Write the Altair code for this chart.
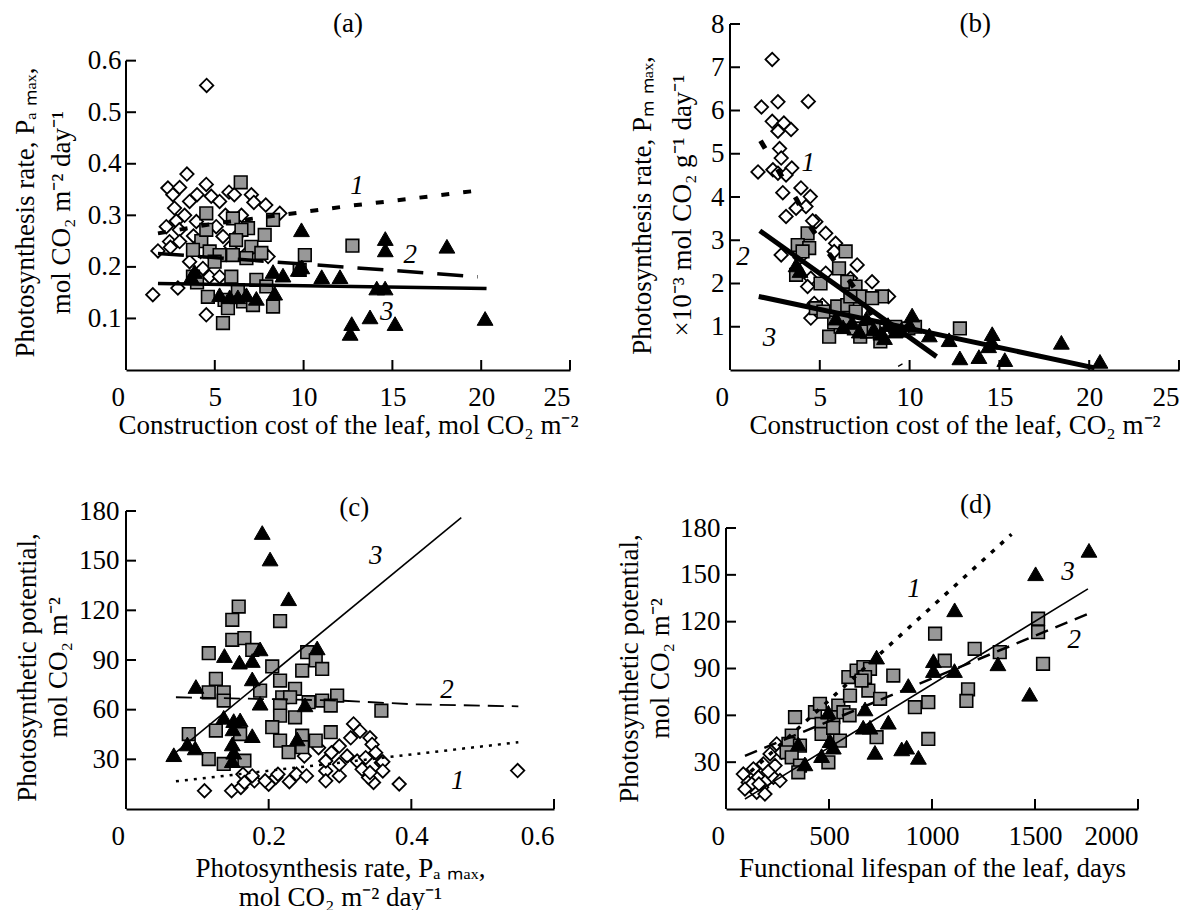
import altair as alt
import pandas as pd

FONT = "Liberation Serif"
FS = 27

# ---------------- panel (a) ----------------
A_DIA_X = [4.54, 3.43, 2.36, 3.02, 4.52, 4.0, 2.64, 4.8, 5.27, 5.8, 6.1, 7.06, 7.87, 8.66, 3.58, 2.73, 3.3,
           2.27, 2.83, 3.0, 3.96, 5.08, 5.46, 2.45, 3.02, 1.8, 3.58, 4.33, 4.7, 5.27, 1.51, 2.92, 4.52, 8.0,
           6.5, 7.2, 4.2, 5.9, 6.9, 2.5, 3.8, 4.9, 6.3, 5.6]
A_DIA_Y = [0.552, 0.380, 0.353, 0.354, 0.360, 0.340, 0.340, 0.337, 0.327, 0.345, 0.340, 0.340, 0.320, 0.304,
           0.327, 0.314, 0.300, 0.278, 0.289, 0.272, 0.288, 0.278, 0.259, 0.249, 0.249, 0.231, 0.210, 0.197,
           0.181, 0.181, 0.146, 0.159, 0.107, 0.220, 0.300, 0.325, 0.230, 0.240, 0.230, 0.238, 0.260, 0.220,
           0.262, 0.300]
A_SQ_X = [6.46, 4.52, 6.02, 6.87, 6.5, 8.28, 7.81, 4.24, 6.2, 7.06, 4.52, 3.77, 4.71, 5.27, 6.02, 6.78, 7.62,
          4.99, 10.07, 12.75, 9.78, 3.77, 5.93, 7.34, 7.9, 4.61, 5.55, 6.59, 7.15, 8.28, 5.74, 5.46, 6.3, 4.0]
A_SQ_Y = [0.364, 0.304, 0.294, 0.275, 0.272, 0.291, 0.262, 0.250, 0.252, 0.239, 0.272, 0.233, 0.230, 0.223,
          0.223, 0.217, 0.227, 0.210, 0.223, 0.241, 0.194, 0.181, 0.181, 0.175, 0.162, 0.142, 0.136, 0.133,
          0.126, 0.123, 0.120, 0.091, 0.155, 0.170]
A_TRI_X = [9.88, 14.6, 14.6, 18.07, 9.9, 9.7, 11.02, 12.05, 14.12, 14.59, 12.71, 12.62, 13.74, 15.15, 20.22,
           8.28, 8.84, 3.86, 5.27, 5.84, 6.3, 6.78, 7.34, 8.37, 3.68]
A_TRI_Y = [0.272, 0.255, 0.233, 0.240, 0.200, 0.195, 0.181, 0.181, 0.159, 0.159, 0.090, 0.071, 0.103, 0.090,
           0.100, 0.191, 0.184, 0.191, 0.146, 0.142, 0.142, 0.146, 0.139, 0.149, 0.181]
A_L1_X = [1.8, 5.0, 8.8, 12.5, 15.0, 19.8]
A_L1_Y = [0.265, 0.284, 0.301, 0.318, 0.328, 0.348]
A_L2_X = [1.8, 19.8]
A_L2_Y = [0.226, 0.181]
A_L3_X = [1.8, 20.3]
A_L3_Y = [0.168, 0.158]
A_LAB_X = [13.0, 16.0, 14.68]
A_LAB_Y = [0.356, 0.223, 0.113]

# ---------------- panel (b) ----------------
B_DIA_X = [2.35, 1.75, 2.67, 4.36, 2.35, 3.0, 3.4, 2.67, 2.76, 2.85, 1.56, 2.39, 2.67, 3.44, 3.12, 3.95, 2.94,
           4.47, 4.23, 3.12, 3.68, 4.78, 5.33, 5.88, 2.85, 7.08, 7.91, 4.5, 8.83, 4.5, 4.69, 5.33, 5.8, 6.71,
           4.32, 5.15, 3.9, 4.6]
B_DIA_Y = [7.18, 6.08, 6.2, 6.21, 5.75, 5.71, 5.56, 5.52, 5.12, 4.9, 4.58, 4.63, 4.55, 4.67, 4.51, 4.21, 4.1,
           4.01, 3.78, 3.55, 3.74, 3.43, 3.16, 2.93, 2.66, 2.43, 2.04, 2.12, 1.70, 1.2, 1.54, 2.24, 2.74, 2.12,
           1.93, 1.5, 2.6, 3.45]
B_SQ_X = [4.32, 3.77, 4.41, 4.04, 6.44, 3.68, 6.07, 5.04, 6.53, 6.99, 7.27, 8.46, 7.91, 5.97, 6.53, 4.78, 5.52,
          7.25, 8.37, 6.16, 6.9, 7.63, 12.8, 9.93, 5.8, 6.4, 7.0, 8.0, 9.2, 5.2, 6.7, 10.3]
B_SQ_Y = [3.16, 2.89, 2.82, 2.74, 2.74, 2.2, 2.35, 2.0, 2.04, 1.93, 1.70, 1.70, 1.66, 1.47, 1.5, 1.43, 0.77,
          0.77, 0.66, 1.0, 0.96, 0.89, 0.96, 0.96, 1.1, 1.2, 1.35, 1.0, 1.0, 1.35, 1.7, 1.0]
B_TRI_X = [10.14, 11.1, 12.2, 12.8, 13.86, 14.6, 14.6, 15.3, 18.45, 20.6, 14.4, 9.5, 5.9, 6.3, 6.8, 7.2, 7.6,
           8.0, 8.4, 8.8, 9.2, 8.6, 3.68, 3.9, 10.0]
B_TRI_Y = [1.27, 0.81, 0.70, 0.28, 0.31, 0.84, 0.64, 0.24, 0.64, 0.20, 0.56, 0.92, 1.2, 1.0, 1.1, 0.9, 1.2,
           0.95, 0.85, 1.05, 0.9, 0.75, 2.43, 2.3, 1.05]
B_L1_X = [1.7, 2.7, 3.7, 4.5, 5.5, 6.5, 7.5, 8.5, 9.5]
B_L1_Y = [5.3, 4.6, 3.95, 3.3, 2.7, 2.15, 1.55, 0.85, 0.1]
B_L2_X = [1.66, 11.5]
B_L2_Y = [3.22, 0.31]
B_L3_X = [1.6, 20.3]
B_L3_Y = [1.7, 0.05]
B_LAB_X = [4.36, 0.73, 2.2]
B_LAB_Y = [4.78, 2.62, 0.73]

# ---------------- panel (c) ----------------
C_DIA_X = [0.319, 0.342, 0.315, 0.299, 0.549, 0.383, 0.358, 0.347, 0.34, 0.110, 0.148, 0.161, 0.18, 0.2, 0.21,
           0.229, 0.239, 0.253, 0.28, 0.28, 0.299, 0.299, 0.31, 0.324, 0.336, 0.331, 0.342, 0.36, 0.28, 0.288,
           0.164, 0.177, 0.166, 0.195, 0.213, 0.328, 0.345, 0.35, 0.27, 0.25, 0.36]
C_DIA_Y = [51.4, 43, 43, 38, 23.2, 15.1, 28, 16, 19, 11, 11, 13, 17, 15, 19, 16.5, 21, 20, 23, 17, 20, 27, 32,
           29, 31, 24, 22, 28.5, 29, 34, 21, 20, 16, 17, 21, 47, 39, 34, 37, 32, 23]
C_SQ_X = [0.158, 0.149, 0.216, 0.149, 0.166, 0.116, 0.177, 0.205, 0.254, 0.266, 0.275, 0.247, 0.126, 0.216,
          0.237, 0.116, 0.137, 0.137, 0.188, 0.219, 0.23, 0.256, 0.275, 0.296, 0.287, 0.216, 0.216, 0.237,
          0.088, 0.126, 0.205, 0.216, 0.247, 0.266, 0.287, 0.228, 0.247, 0.116, 0.137, 0.166, 0.16, 0.358]
C_SQ_Y = [122.3, 114.3, 113.5, 102.2, 103.2, 94.1, 96.1, 86.1, 94.7, 89.7, 84.6, 83.6, 78.6, 77.6, 72.6, 70.5,
          70.5, 65.5, 71.5, 67.5, 67.5, 64.5, 65.5, 68.5, 62.5, 62.5, 56.4, 55.4, 45.3, 47.4, 49.4, 41.3, 44.3,
          41.3, 46.4, 34.3, 37.3, 30.2, 27.2, 29.2, 45.3, 59.4]
C_TRI_X = [0.191, 0.202, 0.228, 0.188, 0.138, 0.159, 0.177, 0.177, 0.098, 0.188, 0.268, 0.251, 0.137, 0.151,
           0.16, 0.177, 0.149, 0.151, 0.149, 0.24, 0.067, 0.086, 0.097, 0.15]
C_TRI_Y = [167, 151, 127, 96.7, 92.7, 88.7, 89.7, 78.6, 74, 63.9, 97.3, 62.9, 55.4, 53.4, 53.8, 44.3, 39.3,
           34.3, 29.2, 42.3, 32.8, 39.3, 36.9, 48.4]
C_L1_X = [0.07, 0.55]
C_L1_Y = [16.7, 40.3]
C_L2_X = [0.07, 0.3, 0.4, 0.55]
C_L2_Y = [67.5, 65.5, 63.3, 62.0]
C_L3_X = [0.07, 0.47]
C_L3_Y = [34.2, 176]
C_LAB_X = [0.465, 0.45, 0.35]
C_LAB_Y = [17, 72, 153]

# ---------------- panel (d) ----------------
D_DIA_X = [84, 108, 133, 181, 214, 246, 270, 157, 197, 173, 149, 230, 262, 125, 92, 189, 238, 205, 160]
D_DIA_Y = [22.4, 17, 25.7, 28.9, 35.3, 41.7, 36.3, 20.3, 18.2, 13.9, 10.7, 20.3, 18.2, 16, 12.8, 9.6, 27.8,
           24, 16]
D_SQ_X = [335, 319, 303, 294, 359, 319, 359, 351, 432, 456, 545, 602, 691, 748, 521, 570, 464, 464, 497, 553,
          594, 634, 667, 699, 675, 658, 731, 812, 917, 982, 982, 1015, 1515, 1515, 1539, 1062, 1207, 1329,
          1175, 1167, 600, 520]
D_SQ_Y = [58.8, 47, 41.7, 36.3, 40.6, 33.1, 27.8, 23.5, 62, 67.4, 66.3, 72.7, 75.9, 70.6, 58.8, 62, 54.5, 48.1,
          29.9, 43.8, 84.5, 88.7, 90.9, 89.8, 84.5, 82.3, 46, 85.5, 65.2, 68.4, 44.9, 112.3, 121.9, 113.3, 93,
          95, 102.6, 100.5, 76.7, 69.2, 60, 52]
D_TRI_X = [351, 383, 464, 505, 521, 497, 675, 666, 699, 723, 788, 731, 885, 853, 877, 934, 1110, 1503, 1762,
           1007, 1007, 1109, 1320, 1474]
D_TRI_Y = [41.7, 28.9, 34.2, 43.8, 39.6, 62, 64.1, 52.4, 52.4, 36.3, 55.6, 97.3, 79.1, 38.5, 39.6, 33.1,
           127.6, 150.7, 165.7, 95, 88.7, 88.7, 93, 73.5]
D_L1_X = [120, 1386]
D_L1_Y = [24, 176]
D_L2_X = [92, 1757]
D_L2_Y = [34, 125]
D_L3_X = [92, 1757]
D_L3_Y = [6.4, 141]
D_LAB_X = [913, 1690, 1660]
D_LAB_Y = [141, 108, 152]

LINE_NAMES = ["1", "2", "3"]

H1, H2 = 346, 298


def panel(W, H, xdom, ydom, ytop, xvals, yvals, xtitle, ytitle, titleY,
          dia, sq, tri, lines, labs, tag, xtp, ylp, ytp, ylh):
    xs = alt.Scale(domain=xdom, nice=False, zero=False)
    ys = alt.Scale(domain=ydom, nice=False, zero=False)
    xaxis = alt.Axis(values=xvals, format="~r", title=xtitle, ticks=False, grid=False,
                     domainColor="black", domainWidth=2,
                     labelFont=FONT, labelFontSize=FS, labelColor="black", labelPadding=14,
                     labelOffset={"condition": {"test": "datum.value === 0", "value": -15}, "value": 0},
                     titleFont=FONT, titleFontSize=FS, titleFontWeight="normal", titleColor="black",
                     titlePadding=xtp, titleLineHeight=29)
    yaxis = alt.Axis(values=yvals, format="~r", title=ytitle, ticks=False, grid=False, domain=False,
                     labelFont=FONT, labelFontSize=FS, labelColor="black", labelPadding=ylp,
                     titleFont=FONT, titleFontSize=FS, titleFontWeight="normal", titleColor="black",
                     titlePadding=ytp, titleLineHeight=ylh, titleY=titleY)

    X = alt.X("x:Q", scale=xs, axis=xaxis)
    Y = alt.Y("y:Q", scale=ys, axis=yaxis)

    layers = []
    layers.append(alt.Chart(pd.DataFrame({"x": dia[0], "y": dia[1]})).mark_point(
        shape="diamond", filled=True, fill="white", stroke="black", strokeWidth=1.8,
        size=180, opacity=1).encode(x=X, y=Y))
    layers.append(alt.Chart(pd.DataFrame({"x": sq[0], "y": sq[1]})).mark_point(
        shape="square", filled=True, fill="#989898", stroke="black", strokeWidth=1.6,
        size=160, opacity=1).encode(x=X, y=Y))
    layers.append(alt.Chart(pd.DataFrame({"x": tri[0], "y": tri[1]})).mark_point(
        shape="triangle-up", filled=True, fill="black", stroke="black", strokeWidth=1,
        size=250, opacity=1).encode(x=X, y=Y))
    for (lx, ly, dash, w) in lines:
        kw = dict(color="black", strokeWidth=w, strokeCap="butt")
        if dash:
            kw["strokeDash"] = dash
        layers.append(alt.Chart(pd.DataFrame({"x": lx, "y": ly})).mark_line(**kw).encode(x=X, y=Y))
    layers.append(alt.Chart(pd.DataFrame({"x": labs[0], "y": labs[1], "t": LINE_NAMES})).mark_text(
        font=FONT, fontSize=27, fontStyle="italic", color="black", align="center",
        baseline="middle").encode(x=X, y=Y, text="t:N"))
    layers.append(alt.Chart(pd.DataFrame({"x": [tag[0]], "y": [tag[1]], "t": [tag[2]]})).mark_text(
        font=FONT, fontSize=27, color="black", align="center", baseline="middle").encode(
        x=X, y=Y, text="t:N"))
    # y axis line (only up to the last labelled value)
    layers.append(alt.Chart(pd.DataFrame({"y": [0], "y2": [ytop]})).mark_rule(
        color="black", strokeWidth=2).encode(x=alt.value(0), y=Y, y2="y2:Q"))
    # inward ticks
    layers.append(alt.Chart(pd.DataFrame({"y": yvals})).mark_rule(color="black", strokeWidth=2).encode(
        y=Y, x=alt.value(0), x2=alt.value(10)))
    layers.append(alt.Chart(pd.DataFrame({"x": [v for v in xvals if v != 0]})).mark_rule(
        color="black", strokeWidth=2).encode(x=X, y=alt.value(H), y2=alt.value(H - 10)))
    return alt.layer(*layers).properties(width=W, height=H)


pa = panel(444, H1, [0, 25], [0, 0.6711], 0.6, [0, 5, 10, 15, 20, 25],
           [0.1, 0.2, 0.3, 0.4, 0.5, 0.6],
           "Construction cost of the leaf, mol CO₂ m⁻²",
           ["Photosynthesis rate, Pₐ ₘₐₓ,", "mol CO₂ m⁻² day⁻¹"], 188,
           (A_DIA_X, A_DIA_Y), (A_SQ_X, A_SQ_Y), (A_TRI_X, A_TRI_Y),
           [(A_L1_X, A_L1_Y, [8, 14], 4), (A_L2_X, A_L2_Y, [26, 14], 3.5), (A_L3_X, A_L3_Y, None, 3.5)],
           (A_LAB_X, A_LAB_Y), (12.5, 0.672, "(a)"), 2, 5, 12, 36)

pb = panel(449, H1, [0, 25], [0, 8], 8, [0, 5, 10, 15, 20, 25], [1, 2, 3, 4, 5, 6, 7, 8],
           "Construction cost of the leaf, CO₂ m⁻²",
           ["Photosynthesis rate, Pₘ ₘₐₓ,", "×10⁻³ mol CO₂ g⁻¹ day⁻¹"], 181,
           (B_DIA_X, B_DIA_Y), (B_SQ_X, B_SQ_Y), (B_TRI_X, B_TRI_Y),
           [(B_L1_X, B_L1_Y, [9, 24], 5), (B_L2_X, B_L2_Y, None, 5), (B_L3_X, B_L3_Y, None, 5)],
           (B_LAB_X, B_LAB_Y), (13.65, 8.0, "(b)"), 2, 6, 14, 40)

pc = panel(428, H2, [0, 0.6], [0, 180], 180, [0, 0.2, 0.4, 0.6], [30, 60, 90, 120, 150, 180],
           ["Photosynthesis rate, Pₐ ₘₐₓ,", "mol CO₂ m⁻² day⁻¹"],
           ["Photosynthetic potential,", "mol CO₂ m⁻²"], 156,
           (C_DIA_X, C_DIA_Y), (C_SQ_X, C_SQ_Y), (C_TRI_X, C_TRI_Y),
           [(C_L1_X, C_L1_Y, [3, 6], 2.5), (C_L2_X, C_L2_Y, [16, 8], 1.8), (C_L3_X, C_L3_Y, None, 1.6)],
           (C_LAB_X, C_LAB_Y), (0.32, 182, "(c)"), 6, 7, 6, 31)

pd_ = panel(412, H2, [0, 2000], [0, 190.9], 180, [0, 500, 1000, 1500, 2000], [30, 60, 90, 120, 150, 180],
            "Functional lifespan of the leaf, days",
            ["Photosynthetic potential,", "mol CO₂ m⁻²"], 157,
            (D_DIA_X, D_DIA_Y), (D_SQ_X, D_SQ_Y), (D_TRI_X, D_TRI_Y),
            [(D_L1_X, D_L1_Y, [4.5, 8], 3.5), (D_L2_X, D_L2_Y, [13, 8], 2.5), (D_L3_X, D_L3_Y, None, 1.6)],
            (D_LAB_X, D_LAB_Y), (1212, 194.6, "(d)"), 6, 6, 5, 31)

row1 = alt.hconcat(pa, pb, spacing=50)
row2 = alt.hconcat(pc, pd_, spacing=60)
chart = alt.vconcat(row1, row2, spacing=53).properties(
    padding={"left": 3, "top": 1, "right": 0, "bottom": 0}, background="white"
).configure_view(stroke=None)

chart.save("out.html", embed_options={"renderer": "svg", "actions": False})
